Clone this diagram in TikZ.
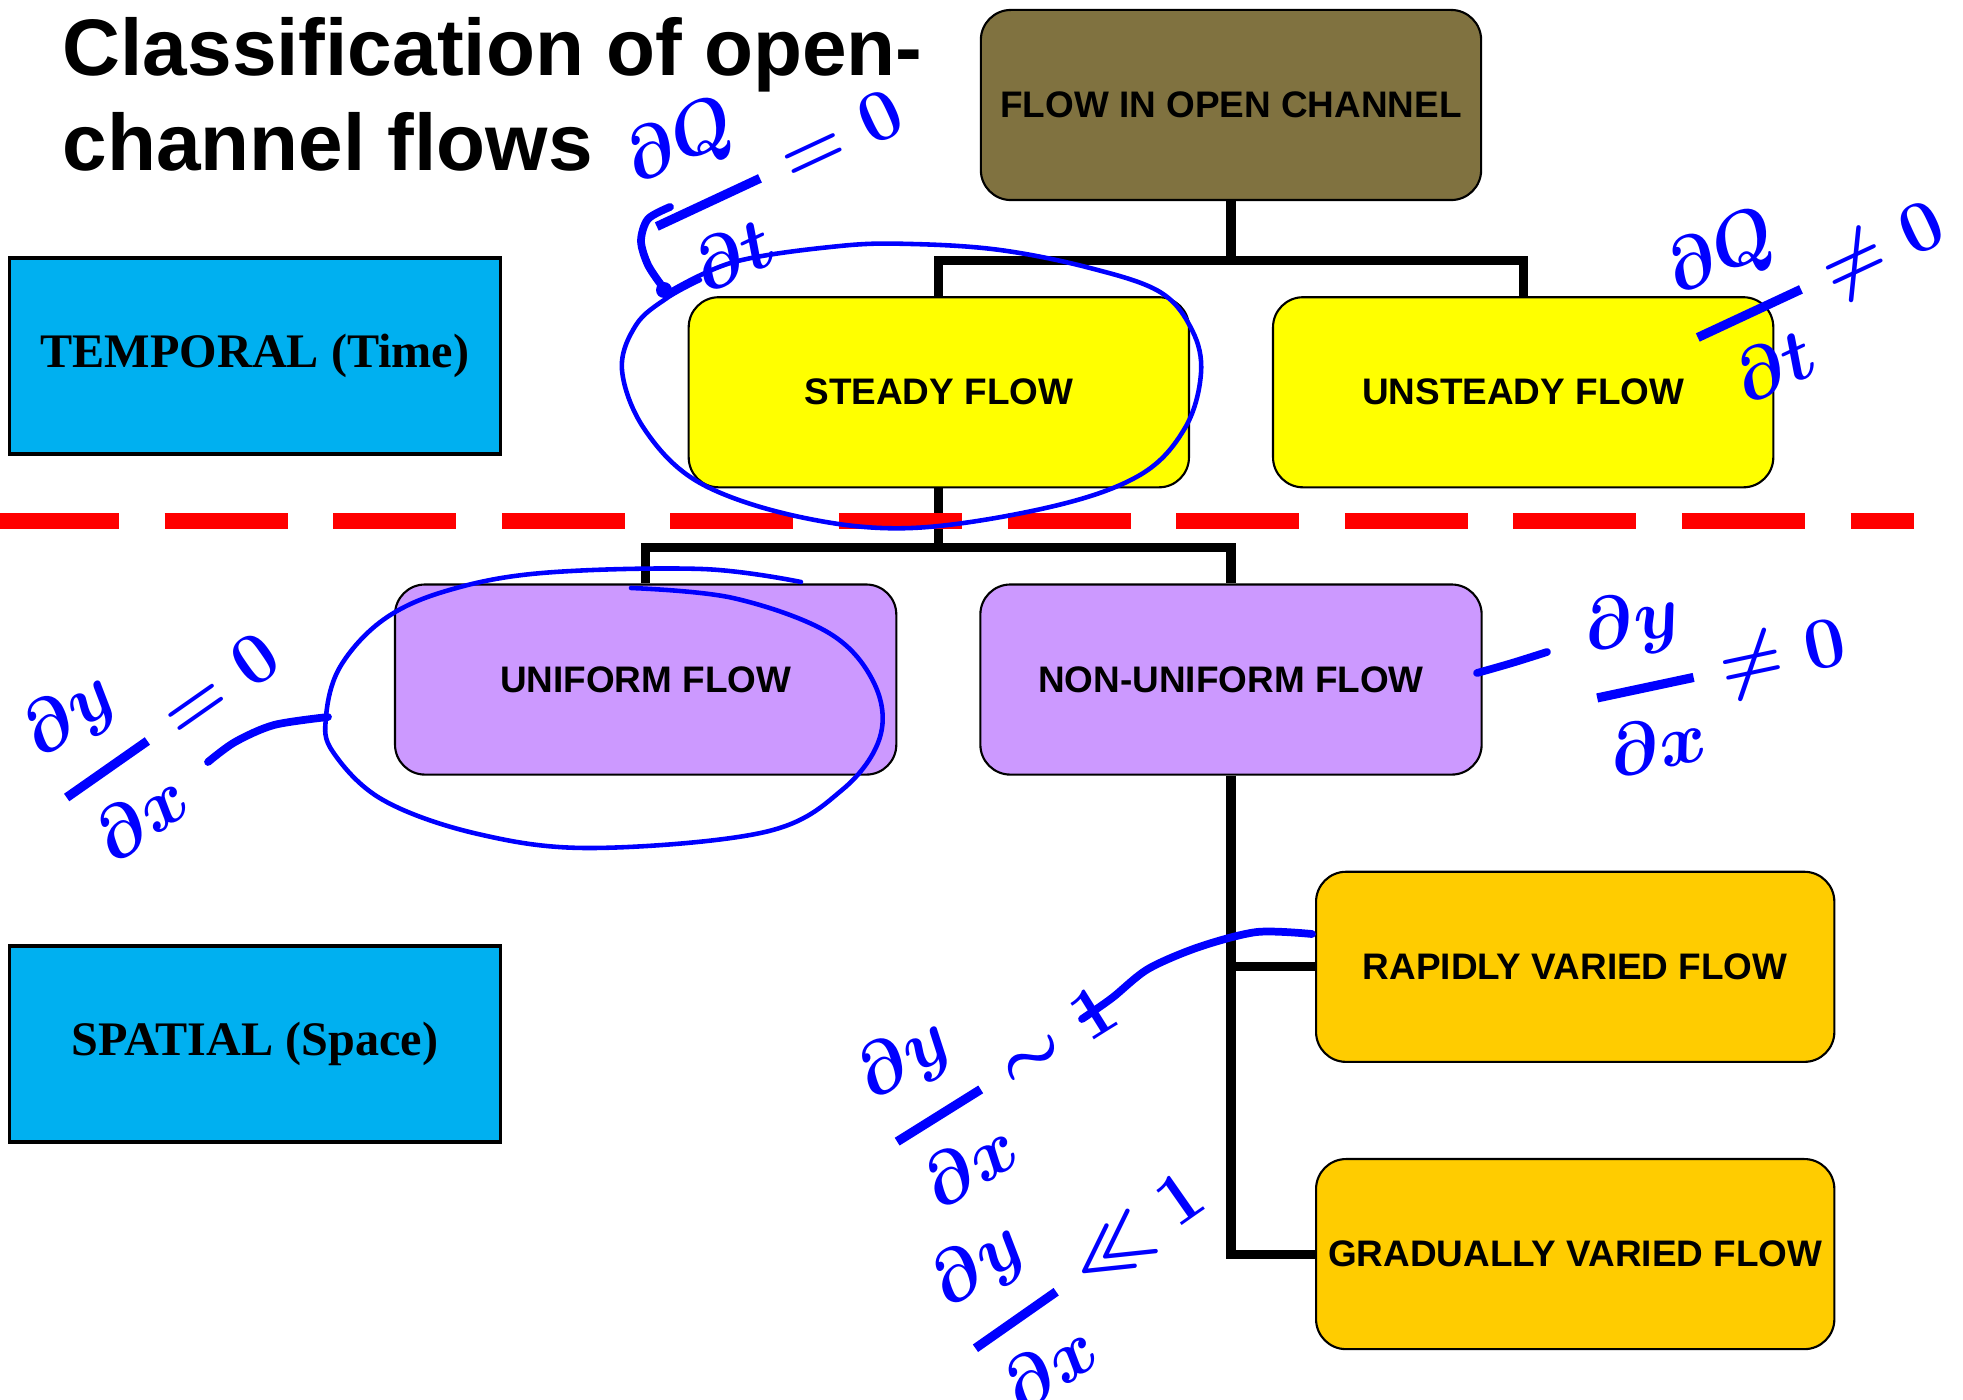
\documentclass[tikz,border=0pt]{standalone}
\usepackage{amsmath}
\usepackage{fontspec}
\setmainfont{Liberation Serif}
\setsansfont{Liberation Sans}
\usepackage{tikz}
\usetikzlibrary{positioning, calc}

\definecolor{rootolive}{RGB}{128,114,64}
\definecolor{steadyyellow}{RGB}{255,255,0}
\definecolor{spacelilac}{RGB}{204,153,255}
\definecolor{variedgold}{RGB}{255,204,0}
\definecolor{axiscyan}{RGB}{0,176,240}
\definecolor{inkblue}{RGB}{0,0,255}

% fracao escrita a mao, com traco grosso
\newcommand{\inkfrac}[2]{\genfrac{}{}{2.6pt}{0}{#1}{#2}}

\begin{document}
\begin{tikzpicture}[
      x=0.01cm, y=-0.01cm,
      node distance = 0.95cm,
      font=\sffamily\bfseries\fontsize{10.5}{12.6}\selectfont,
      base/.style = {draw, line width=0.6pt, rounded corners=0.3cm, text centered, inner sep=2pt, minimum height=1.9cm},
      % --- Estilos de Blocos ---
      root/.style = {base, fill=rootolive, minimum width=5cm},
      lvl1/.style = {base, fill=steadyyellow, minimum width=5cm},
      lvl2/.style = {base, fill=spacelilac, minimum width=5.01cm},
      lvl3/.style = {base, fill=variedgold, minimum width=5.18cm},
      axisbox/.style = {draw, line width=0.9pt, fill=axiscyan, minimum width=4.91cm, minimum height=1.96cm,
                        font=\rmfamily\bfseries\fontsize{13.7}{16}\selectfont},
      link/.style = {line width=2.6pt},
      divider/.style = {red, line width=4.3pt, dash pattern=on 1.23cm off 0.455cm, dash phase=0.04cm},
      ink/.style = {text=inkblue, inner sep=0pt, font=\boldmath\fontsize{22}{26}\selectfont},
      inkline/.style = {inkblue, line width=2.2pt, line cap=round, line join=round},
      inkloop/.style = {inkblue, line width=1.3pt, line cap=round, line join=round}
    ]
      \useasboundingbox (0,0) rectangle (1963,1400);

      % --- Titulo ---
      \node [anchor=north west, inner sep=0pt, align=left, font=\sffamily\bfseries\fontsize{22.8}{27}\selectfont] (title) at (62,17)
        {Classification of open-\\channel flows};

      % --- Arvore de classificacao ---
      \node [root] (root) at (1231,105) {FLOW IN OPEN CHANNEL};
      \node [lvl1, below=of root, xshift=-2.92cm] (steady) {STEADY FLOW};
      \node [lvl1, below=of root, xshift=2.92cm] (unsteady) {UNSTEADY FLOW};
      \node [lvl2, below=of steady, xshift=-2.93cm] (uniform) {UNIFORM FLOW};
      \node [lvl2, below=of steady, xshift=2.92cm] (nonuniform) {NON-UNIFORM FLOW};
      \node [lvl3, below=of nonuniform, xshift=3.44cm] (rapid) {RAPIDLY VARIED FLOW};
      \node [lvl3, below=of rapid] (gradual) {GRADUALLY VARIED FLOW};

      % Conexoes
      \draw [link] (root.south) -- ++(0,59) coordinate (fork1) -| (steady.north);
      \draw [link] (fork1) -| (unsteady.north);
      \draw [link] (steady.south) -- ++(0,59) coordinate (fork2) -| (uniform.north);
      \draw [link] (fork2) -| (nonuniform.north);
      \draw [link] (nonuniform.south) |- (gradual.west);
      \draw [link] (nonuniform.south |- rapid.west) -- (rapid.west);

      % --- Eixos: tempo e espaco ---
      \node [axisbox] (temporal) at (255,356) {TEMPORAL (Time)};
      \node [axisbox] (spatial) at (255,1044) {SPATIAL (Space)};

      \coordinate (divL) at (0,521);
      \coordinate (divR) at (1914,521);
      \draw [divider] (divL) -- (divR);

      % --- Anotacoes a mao ---
      \node [ink, rotate=25] (dqdt0) at (774,164) {$\inkfrac{\partial Q}{\partial t}=0$};
      \node [ink, rotate=25] (dqdtn) at (1815,275) {$\inkfrac{\partial Q}{\partial t}\neq 0$};
      \node [ink, rotate=35] (dydx0) at (165,720) {$\inkfrac{\partial y}{\partial x}=0$};
      \node [ink, rotate=12] (dydxn) at (1718,665) {$\inkfrac{\partial y}{\partial x}\neq 0$};
      \node [ink, rotate=32] (dydx1) at (1000,1069) {$\inkfrac{\partial y}{\partial x}\sim 1$};
      \node [ink, rotate=35] (dydxll) at (1082,1265) {$\inkfrac{\partial y}{\partial x}\ll 1$};

      % laco em volta de STEADY FLOW
      \draw [inkloop] plot [smooth, tension=0.6] coordinates {
        (667,293) (734,262) (840,246) (912,244) (1000,250) (1090,268) (1160,292) (1192,330)
        (1201,373) (1185,428) (1140,475) (1050,507) (912,528) (800,517) (700,483) (645,430)
        (622,370) (636,325) (667,298) (700,280)};
      \draw [inkline] plot [smooth] coordinates {(670,207) (648,219) (641,241) (648,265) (662,286)};
      \fill [inkblue] (664,290) circle (8);

      % laco em volta de UNIFORM FLOW
      \draw [inkloop] plot [smooth, tension=0.6] coordinates {
        (801,582) (702,569) (542,573) (446,591) (383,620) (340,667) (326,717) (333,752)
        (383,800) (478,834) (593,848) (765,832) (842,790) (880,737) (874,683) (829,633)
        (733,598) (631,588)};
      \draw [inkline] plot [smooth] coordinates {(328,717) (274,725) (235,742) (208,762)};

      % tracos de ligacao
      \draw [inkline] plot [smooth] coordinates {(1477,673) (1512,663) (1547,652)};
      \draw [inkline] plot [smooth] coordinates {(1312,934) (1257,932) (1199,947) (1148,969) (1112,998) (1082,1019)};

    \end{tikzpicture}
\end{document}
